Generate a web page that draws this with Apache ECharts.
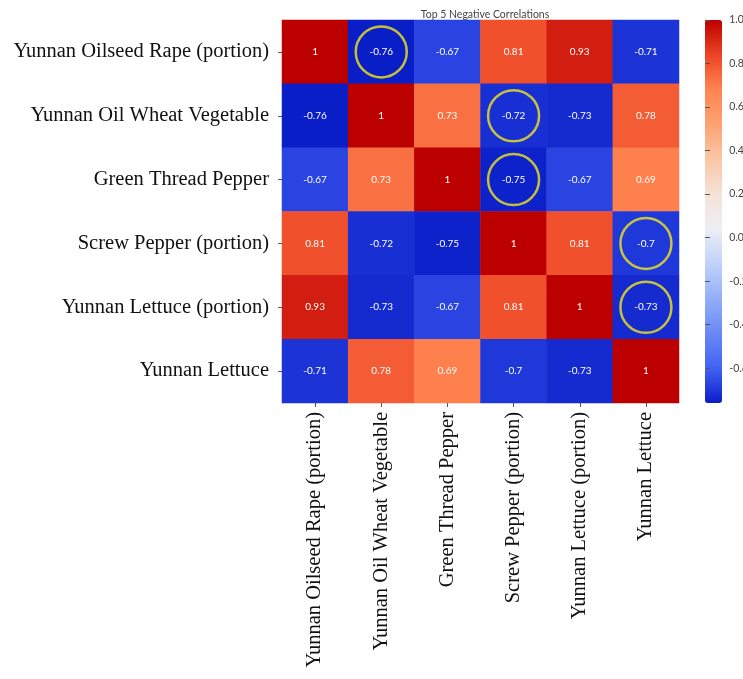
<!DOCTYPE html>
<html>
<head>
<meta charset="utf-8">
<script src="https://cdn.jsdelivr.net/npm/echarts@6/dist/echarts.min.js"></script>
<style>
  html, body { margin: 0; padding: 0; background: #fff; }
  #chart { width: 743px; height: 679px; }
</style>
</head>
<body>
<div id="chart"></div>
<script>
// Variables in the correlation matrix (same order on both axes)
const crops = [
  'Yunnan Oilseed Rape (portion)',
  'Yunnan Oil Wheat Vegetable',
  'Green Thread Pepper',
  'Screw Pepper (portion)',
  'Yunnan Lettuce (portion)',
  'Yunnan Lettuce'
];

// Correlation coefficients, one array per row
const rowOilseedRape   = [1, -0.76, -0.67, 0.81, 0.93, -0.71];
const rowOilWheat      = [-0.76, 1, 0.73, -0.72, -0.73, 0.78];
const rowThreadPepper  = [-0.67, 0.73, 1, -0.75, -0.67, 0.69];
const rowScrewPepper   = [0.81, -0.72, -0.75, 1, 0.81, -0.7];
const rowLettucePart   = [0.93, -0.73, -0.67, 0.81, 1, -0.73];
const rowLettuce       = [-0.71, 0.78, 0.69, -0.7, -0.73, 1];
const matrixRows = [rowOilseedRape, rowOilWheat, rowThreadPepper, rowScrewPepper, rowLettucePart, rowLettuce];

// The five strongest negative pairs, marked with a ring: [column, row]
const topNegative = [[1, 0], [3, 1], [3, 2], [5, 3], [5, 4]];

// Colour bar tick values
const barTicks = [-0.6, -0.4, -0.2, 0.0, 0.2, 0.4, 0.6, 0.8, 1.0];

const cells = [];
matrixRows.forEach((row, r) => row.forEach((v, c) => cells.push([c, r, v])));

const chart = echarts.init(document.getElementById('chart'));
chart.setOption({
  backgroundColor: '#ffffff',
  animation: false,
  title: {
    text: 'Top 5 Negative Correlations',
    left: 480, top: 4, textAlign: 'center',
    textStyle: { fontFamily: 'Lato, sans-serif', fontSize: 10.5, fontWeight: 'normal', color: '#444' }
  },
  grid: [
    { left: 282, top: 20, width: 397, height: 383 },
    { left: 705, top: 20, width: 17, height: 383 }
  ],
  xAxis: [
    {
      type: 'category', data: crops, gridIndex: 0,
      axisLine: { show: false },
      axisTick: { show: true, alignWithLabel: true, length: 4, lineStyle: { color: '#555' } },
      axisLabel: {
        rotate: 90, margin: 9, fontSize: 20.5, color: '#111',
        fontFamily: 'Liberation Serif, serif', interval: 0
      },
      splitLine: { show: false }
    },
    { type: 'value', gridIndex: 1, show: false, min: 0, max: 1 }
  ],
  yAxis: [
    {
      type: 'category', data: crops, gridIndex: 0, inverse: true,
      axisLine: { show: false },
      axisTick: { show: true, alignWithLabel: true, length: 4, lineStyle: { color: '#555' } },
      axisLabel: {
        margin: 13, fontSize: 20.5, color: '#111',
        fontFamily: 'Liberation Serif, serif', interval: 0
      },
      splitLine: { show: false }
    },
    {
      type: 'value', gridIndex: 1, position: 'right', min: -0.76, max: 1.0,
      z: 10,
      axisLine: { show: false },
      axisTick: { show: true, inside: false, length: 5, customValues: barTicks, lineStyle: { color: '#555', width: 1 } },
      axisLabel: {
        margin: 12, padding: [0, 0, 0, 8], fontSize: 10.5, color: '#444', fontFamily: 'Lato, sans-serif',
        customValues: barTicks,
        formatter: v => v.toFixed(1)
      },
      splitLine: { show: false }
    }
  ],
  visualMap: {
    type: 'continuous',
    seriesIndex: 0,
    min: -0.76, max: 1.0,
    left: 705, top: 20,
    itemWidth: 17, itemHeight: 383,
    padding: 0,
    calculable: false,
    hoverLink: false,
    text: null,
    z: 1,
    inRange: {
      color: ['#0a1ec8', '#4262f4', '#6a88f4', '#92aef7', '#c0d2fa', '#eceef6',
              '#f6e2d8', '#fac6a6', '#fda272', '#ff8450', '#ec4424', '#bc0000']
    }
  },
  series: [
    {
      type: 'heatmap',
      xAxisIndex: 0, yAxisIndex: 0,
      data: cells,
      label: {
        show: true, color: '#ffffff', fontSize: 10,
        fontFamily: 'Lato, sans-serif',
        formatter: p => String(p.value[2])
      },
      itemStyle: { borderWidth: 0 },
      emphasis: { disabled: true }
    },
    {
      type: 'scatter',
      xAxisIndex: 0, yAxisIndex: 0,
      data: topNegative,
      symbol: 'circle', symbolSize: 51,
      itemStyle: { color: 'rgba(0,0,0,0)', borderColor: '#f2e61a', borderWidth: 2.5 },
      z: 5,
      silent: true
    }
  ]
});
</script>
</body>
</html>
